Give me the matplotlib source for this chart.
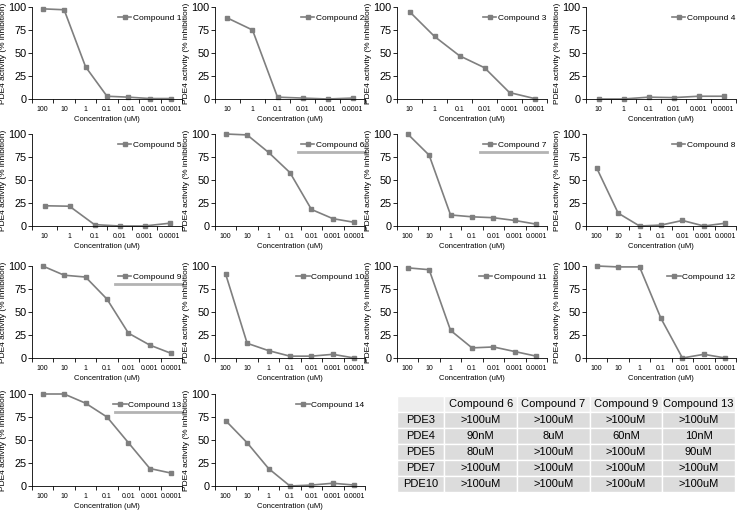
import matplotlib.pyplot as plt

plt.rcParams["font.family"] = ["Liberation Sans", "DejaVu Sans"]

conc7 = ["100", "10", "1", "0.1", "0.01", "0.001", "0.0001"]
conc6 = ["10", "1", "0.1", "0.01", "0.001", "0.0001"]

c1 = [98, 97, 35, 3, 2, 0.5, 0.5]
c2 = [88, 75, 2, 1, 0, 1]
c3 = [95, 68, 47, 34, 7, 0.5]
c4 = [0, 0, 2, 1.5, 3, 3]
c5 = [22, 21.5, 1.5, 0, 0, 3]
c6 = [100, 99, 80, 58, 18, 8, 4]
c7 = [100, 77, 12, 10, 9, 6, 2]
c8 = [63, 14, 0, 1, 6, 0, 3]
c9 = [100, 90, 88, 64, 27, 14, 5]
c10 = [91, 16, 8, 2, 2, 4, 0]
c11 = [98, 96, 30, 11, 12, 7, 2]
c12 = [100, 99, 99, 43, 0, 4, 0]
c13 = [100, 100, 90, 75, 47, 19, 14]
c14 = [71, 47, 19, 0, 1, 3, 1]

panels = [
    ("Compound 1", conc7, c1), ("Compound 2", conc6, c2),
    ("Compound 3", conc6, c3), ("Compound 4", conc6, c4),
    ("Compound 5", conc6, c5), ("Compound 6", conc7, c6),
    ("Compound 7", conc7, c7), ("Compound 8", conc7, c8),
    ("Compound 9", conc7, c9), ("Compound 10", conc7, c10),
    ("Compound 11", conc7, c11), ("Compound 12", conc7, c12),
    ("Compound 13", conc7, c13), ("Compound 14", conc7, c14),
]
# compounds shown in the selectivity table get a grey bar under the legend
underlined = {"Compound 6", "Compound 7", "Compound 9", "Compound 13"}

table_cols = ["", "Compound 6", "Compound 7", "Compound 9", "Compound 13"]
table_rows = [
    ["PDE3", ">100uM", ">100uM", ">100uM", ">100uM"],
    ["PDE4", "90nM", "8uM", "60nM", "10nM"],
    ["PDE5", "80uM", ">100uM", ">100uM", "90uM"],
    ["PDE7", ">100uM", ">100uM", ">100uM", ">100uM"],
    ["PDE10", ">100uM", ">100uM", ">100uM", ">100uM"],
]

W, H = 738, 512
fig = plt.figure(figsize=(W / 100, H / 100), dpi=100)

col_left = [32, 215, 397, 586]
row_top = [7, 134, 266, 394]
ax_w, ax_h = 150, 92
grey = "#7f7f7f"

for i, (name, labels, vals) in enumerate(panels):
    r, c = divmod(i, 4)
    left = col_left[c] / W
    bottom = 1 - (row_top[r] + ax_h) / H
    ax = fig.add_axes([left, bottom, ax_w / W, ax_h / H])
    x = list(range(len(vals)))
    ax.plot(x, vals, color=grey, marker="s", markersize=3, linewidth=1.2,
            label=name, clip_on=False)
    ax.set_xlim(-0.5, len(vals) - 0.5)
    ax.set_ylim(0, 100)
    ax.set_yticks([0, 25, 50, 75, 100])
    ax.set_xticks(x, labels)
    ax.set_xticks([k + 0.5 for k in range(-1, len(vals))], minor=True)
    ax.tick_params(axis="x", which="major", length=0, labelsize=5, pad=5)
    ax.tick_params(axis="x", which="minor", length=3, color="black", width=0.6)
    ax.tick_params(axis="y", labelsize=7.8, length=3, width=0.6, pad=1)
    for s in ["top", "right"]:
        ax.spines[s].set_visible(False)
    for s in ["left", "bottom"]:
        ax.spines[s].set_linewidth(0.6)
    ax.set_ylabel("PDE4 activity (% inhibition)", fontsize=6)
    ax.yaxis.set_label_coords(-25 / ax_w, 0.5)
    ax.set_xlabel("Concentration (uM)", fontsize=5.5, labelpad=2)
    ax.legend(loc="upper right", bbox_to_anchor=(1.03, 0.98), frameon=False,
              fontsize=6, handlelength=1.6, handletextpad=0.2,
              borderaxespad=0.2)
    if name in underlined:
        ax.plot([0.55, 1.0], [0.8, 0.8], transform=ax.transAxes,
                color="#b3b3b3", linewidth=2, clip_on=False)

tax = fig.add_axes([397 / W, 1 - 492 / H, 338 / W, 96 / H])
tax.axis("off")
colours = [["#ededed"] * 5] + [["#dcdcdc"] * 5 for _ in table_rows]
tbl = tax.table(cellText=[table_cols] + table_rows, cellColours=colours,
                cellLoc="center", bbox=[0, 0, 1, 1],
                colWidths=[0.14, 0.215, 0.215, 0.215, 0.215])
tbl.auto_set_font_size(False)
tbl.set_fontsize(8)
for cell in tbl.get_celld().values():
    cell.set_edgecolor("white")
    cell.set_linewidth(1)

fig.savefig("out.png", dpi=100)
